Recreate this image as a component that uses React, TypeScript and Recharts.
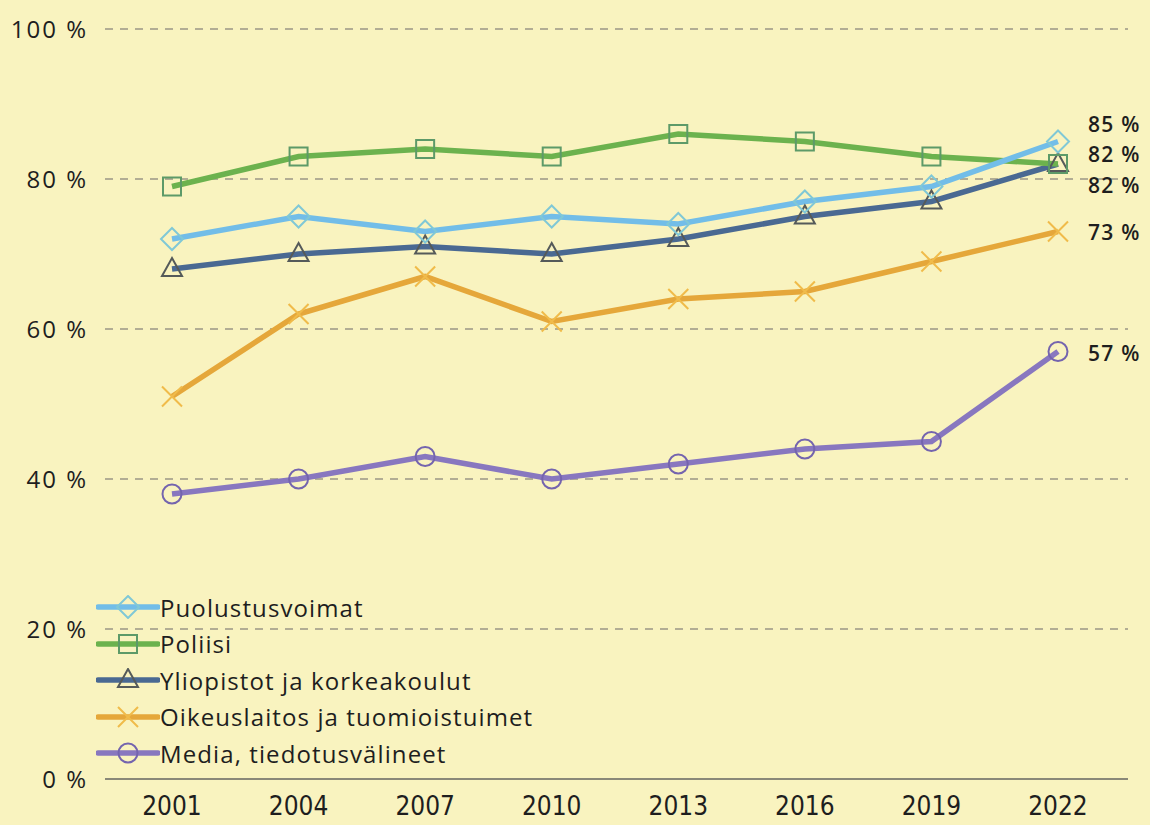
import React from 'react';
import { LineChart, Line, XAxis, YAxis, CartesianGrid, LabelList } from 'recharts';

const years = ['2001', '2004', '2007', '2010', '2013', '2016', '2019', '2022'];
const puolustusvoimat = [72, 75, 73, 75, 74, 77, 79, 85];
const poliisi = [79, 83, 84, 83, 86, 85, 83, 82];
const yliopistot = [68, 70, 71, 70, 72, 75, 77, 82];
const oikeuslaitos = [51, 62, 67, 61, 64, 65, 69, 73];
const media = [38, 40, 43, 40, 42, 44, 45, 57];
const yTicks = [0, 20, 40, 60, 80, 100];

const data = years.map((y, i) => ({
  year: y,
  puol: puolustusvoimat[i],
  pol: poliisi[i],
  yli: yliopistot[i],
  oik: oikeuslaitos[i],
  med: media[i],
}));

const FONT = '"Open Sans", "DejaVu Sans", sans-serif';
const BG = '#f9f3bf';

type Kind = 'diamond' | 'square' | 'triangle' | 'x' | 'circle';

const Marker = ({ cx, cy, kind, color }: { cx: number; cy: number; kind: Kind; color: string }) => {
  if (cx == null || cy == null) return null;
  const sw = 2;
  switch (kind) {
    case 'diamond':
      return <path d={`M${cx},${cy - 11} L${cx + 11},${cy} L${cx},${cy + 11} L${cx - 11},${cy} Z`} fill="none" stroke={color} strokeWidth={sw} />;
    case 'square':
      return <rect x={cx - 9} y={cy - 9} width={18} height={18} fill="none" stroke={color} strokeWidth={sw} />;
    case 'triangle':
      return <path d={`M${cx},${cy - 11} L${cx + 10},${cy + 7} L${cx - 10},${cy + 7} Z`} fill="none" stroke={color} strokeWidth={sw} />;
    case 'x':
      return (
        <path d={`M${cx - 10},${cy - 10} L${cx + 10},${cy + 10} M${cx + 10},${cy - 10} L${cx - 10},${cy + 10}`} fill="none" stroke={color} strokeWidth={sw} />
      );
    case 'circle':
      return <circle cx={cx} cy={cy} r={9.5} fill="none" stroke={color} strokeWidth={sw} />;
  }
  return null;
};

const seriesDefs: { key: string; name: string; color: string; mcolor: string; kind: Kind; dy: number }[] = [
  { key: 'med', name: 'Media, tiedotusvälineet', color: '#8877bf', mcolor: '#7464ae', kind: 'circle', dy: 2 },
  { key: 'oik', name: 'Oikeuslaitos ja tuomioistuimet', color: '#e5a73a', mcolor: '#f0bb4a', kind: 'x', dy: 1 },
  { key: 'yli', name: 'Yliopistot ja korkeakoulut', color: '#4a6992', mcolor: '#555a5a', kind: 'triangle', dy: 22 },
  { key: 'pol', name: 'Poliisi', color: '#6cb24e', mcolor: '#5d9a68', kind: 'square', dy: -9 },
  { key: 'puol', name: 'Puolustusvoimat', color: '#72bde8', mcolor: '#80c8d6', kind: 'diamond', dy: -17 },
];

const legendOrder = ['puol', 'pol', 'yli', 'oik', 'med'];

const CustomLegend = () => (
  <div style={{ position: 'absolute', left: 96, top: 589, fontFamily: FONT, fontSize: 24, color: '#1e1e1e' }}>
    {legendOrder.map((k) => {
      const s = seriesDefs.find((d) => d.key === k)!;
      return (
        <div key={k} style={{ display: 'flex', alignItems: 'center', height: 36.5 }}>
          <svg width={64} height={24} style={{ marginRight: 0 }}>
            <line x1={2} y1={12} x2={62} y2={12} stroke={s.color} strokeWidth={5.5} strokeLinecap="round" />
            <Marker cx={32} cy={12} kind={s.kind} color={s.mcolor} />
          </svg>
          <span style={{ letterSpacing: 1.1, whiteSpace: 'nowrap' }}>{s.name}</span>
        </div>
      );
    })}
  </div>
);

const makeEndLabel = (dy: number) => (props: any) => {
  const { x, y, value, index } = props;
  if (index !== years.length - 1) return null;
  return (
    <text x={x + 30} y={y + dy} dy="0.35em" textAnchor="start" fontFamily={FONT} fontSize={21} fontWeight={600} fill="#1e1e1e" letterSpacing={1.3}>
      {`${value} %`}
    </text>
  );
};

export default function App() {
  return (
    <div style={{ position: 'absolute', left: 0, top: 0, width: 1150, height: 825, background: BG }}>
      <LineChart width={1150} height={825} data={data} margin={{ top: 29, right: 22, bottom: 16, left: 0 }}>
        <CartesianGrid vertical={false} stroke="#9a9686" strokeDasharray="8 7" strokeWidth={1.3} />
        <XAxis
          dataKey="year"
          padding={{ left: 67, right: 70 }}
          height={30}
          tickLine={false}
          tickSize={0}
          tickMargin={18}
          axisLine={{ stroke: '#8a8878', strokeWidth: 2 }}
          tick={{ fontFamily: '"DejaVu Sans Condensed", "DejaVu Sans", sans-serif', fontSize: 26, fill: '#1e1e1e' }}
        />
        <YAxis
          domain={[0, 100]}
          ticks={yTicks}
          width={105}
          axisLine={false}
          tickLine={false}
          tickSize={0}
          tickMargin={17}
          tickFormatter={(v: number) => `${v} %`}
          tick={{ fontFamily: FONT, fontSize: 24, fill: '#1e1e1e', letterSpacing: 2 }}
        />
        {seriesDefs.map((s) => (
          <Line
            key={s.key}
            dataKey={s.key}
            name={s.name}
            type="linear"
            stroke={s.color}
            strokeWidth={5.5}
            isAnimationActive={false}
            dot={(p: any) => <Marker key={`${s.key}-${p.index}`} cx={p.cx} cy={p.cy} kind={s.kind} color={s.mcolor} />}
            activeDot={false}
          >
            <LabelList dataKey={s.key} content={makeEndLabel(s.dy)} />
          </Line>
        ))}
      </LineChart>
      <CustomLegend />
    </div>
  );
}
